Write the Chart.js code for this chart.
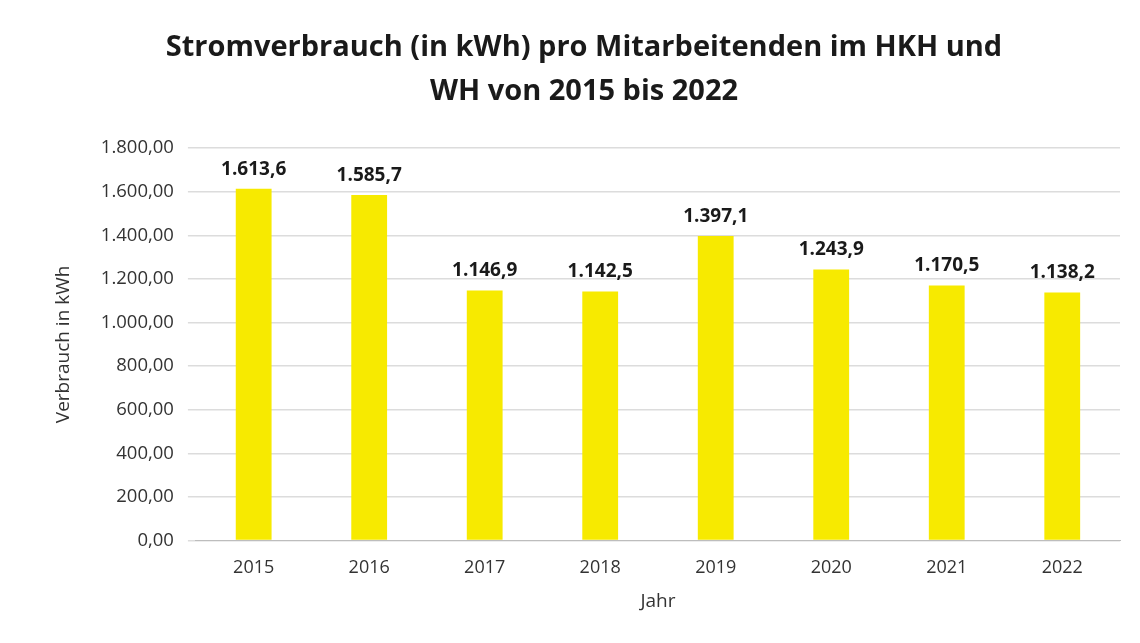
<!DOCTYPE html>
<html>
<head>
<meta charset="utf-8">
<script src="https://cdn.jsdelivr.net/npm/chart.js@4/dist/chart.umd.min.js"></script>
<style>
  html, body { margin: 0; padding: 0; background: #fff; }
  #wrap { width: 1140px; height: 643px; }
</style>
</head>
<body>
<div id="wrap"><canvas id="chart" width="1140" height="643"></canvas></div>
<script>
// Werte aus dem Diagramm
const years = ['2015', '2016', '2017', '2018', '2019', '2020', '2021', '2022'];
const verbrauch = [1613.6, 1585.7, 1146.9, 1142.5, 1397.1, 1243.9, 1170.5, 1138.2];
const yTicks = [0, 200, 400, 600, 800, 1000, 1200, 1400, 1600, 1800];

const fmt = (v, d) => v.toLocaleString('de-DE', { minimumFractionDigits: d, maximumFractionDigits: d });

// Beschriftung über den Balken
const barLabels = {
  id: 'barLabels',
  afterDatasetsDraw(chart) {
    const ctx = chart.ctx;
    const meta = chart.getDatasetMeta(0);
    ctx.save();
    ctx.font = 'bold 19px "Open Sans", sans-serif';
    ctx.fillStyle = '#1a1a1a';
    ctx.textAlign = 'center';
    ctx.textBaseline = 'bottom';
    meta.data.forEach((bar, i) => {
      ctx.fillText(fmt(verbrauch[i], 1), bar.x, bar.y - 10);
    });
    ctx.restore();
  }
};

new Chart(document.getElementById('chart'), {
  type: 'bar',
  data: {
    labels: years,
    datasets: [{
      label: 'Verbrauch in kWh',
      data: verbrauch,
      backgroundColor: '#f7ea00',
      barPercentage: 0.31,
      categoryPercentage: 1
    }]
  },
  options: {
    responsive: false,
    animation: false,
    layout: { padding: { left: 48, right: 20, top: 10, bottom: 26 } },
    plugins: {
      legend: { display: false },
      tooltip: { enabled: false },
      title: {
        display: true,
        text: ['Stromverbrauch (in kWh) pro Mitarbeitenden im HKH und', 'WH von 2015 bis 2022'],
        font: { family: '"Open Sans", sans-serif', size: 29, weight: 'bold', lineHeight: 1.52 },
        color: '#1a1a1a',
        padding: { top: 16, bottom: 34 }
      }
    },
    scales: {
      x: {
        grid: { display: false },
        border: { color: '#bdbdbd' },
        ticks: { color: '#333', font: { family: '"Open Sans", sans-serif', size: 18 }, padding: 8 },
        title: {
          display: true, text: 'Jahr', color: '#333',
          font: { family: '"Open Sans", sans-serif', size: 19 }, padding: { top: 4 }
        }
      },
      y: {
        min: 0,
        max: 1800,
        afterBuildTicks: axis => { axis.ticks = yTicks.map(v => ({ value: v })); },
        grid: { color: '#dcdcdc', lineWidth: 1.5 },
        border: { display: false },
        ticks: {
          color: '#333', font: { family: '"Open Sans", sans-serif', size: 18.5 }, padding: 14,
          callback: v => fmt(v, 2)
        },
        title: {
          display: true, text: 'Verbrauch in kWh', color: '#333',
          font: { family: '"Open Sans", sans-serif', size: 19 }, padding: { bottom: 12 }
        }
      }
    }
  },
  plugins: [barLabels]
});
</script>
</body>
</html>
